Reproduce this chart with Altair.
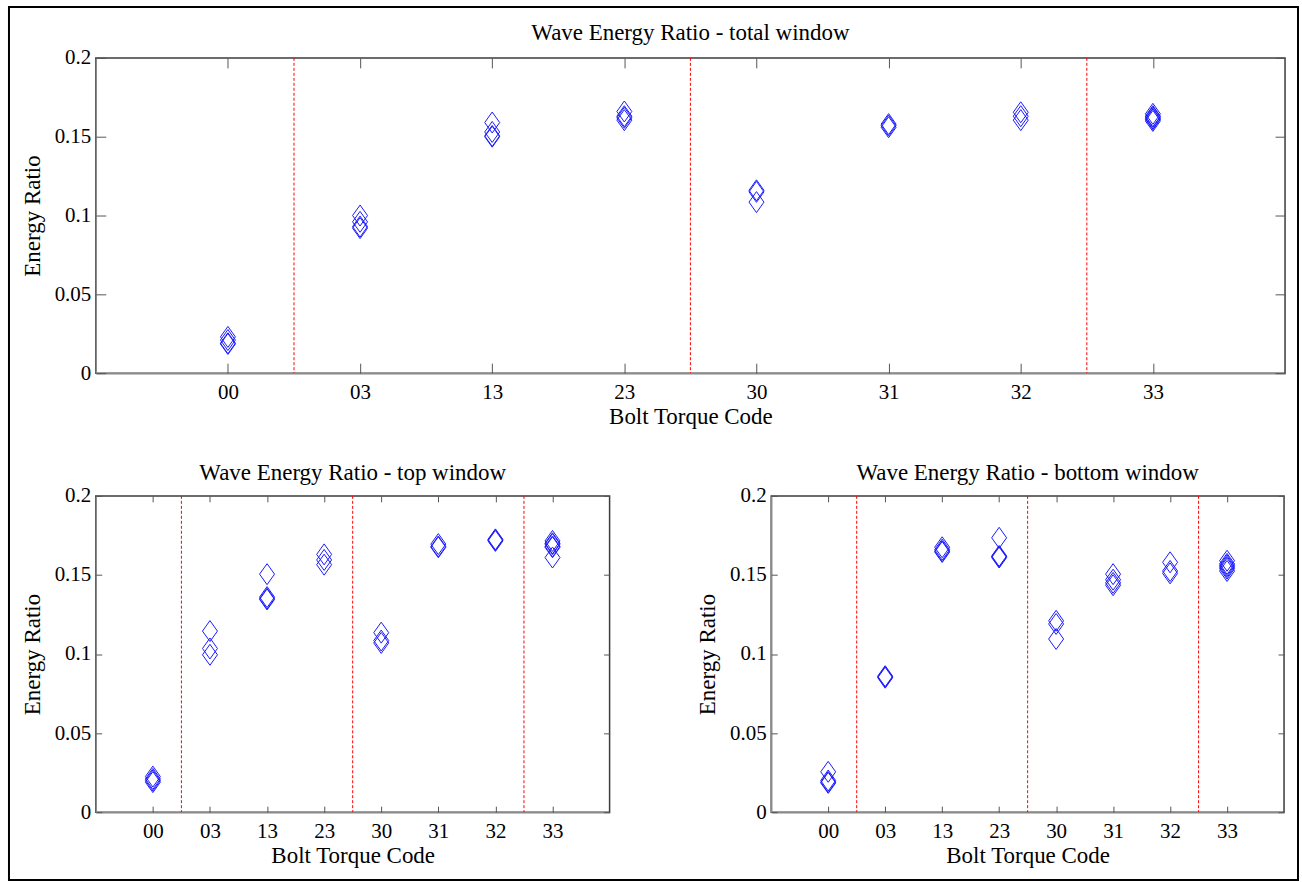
import altair as alt
import pandas as pd

# ---- data ----
codes = ["00", "03", "13", "23", "30", "31", "32", "33"]
boundaries = [1.5, 4.5, 7.5]  # dashed separators between code groups
y_ticks = [0, 0.05, 0.1, 0.15, 0.2]

total_code = ["00", "00", "00", "00",
              "03", "03", "03", "03",
              "13", "13", "13", "13",
              "23", "23", "23", "23",
              "30", "30", "30",
              "31", "31", "31",
              "32", "32", "32",
              "33", "33", "33", "33", "33", "33"]
total_ratio = [0.023, 0.021, 0.019, 0.0185,
               0.100, 0.096, 0.093, 0.092,
               0.159, 0.153, 0.150, 0.1505,
               0.166, 0.163, 0.1605, 0.162,
               0.116, 0.115, 0.1085,
               0.158, 0.156, 0.157,
               0.1655, 0.163, 0.1605,
               0.1645, 0.163, 0.1615, 0.160, 0.1625, 0.161]

top_code = ["00", "00", "00", "00",
            "03", "03", "03",
            "13", "13", "13", "13",
            "23", "23", "23",
            "30", "30", "30",
            "31", "31", "31",
            "32", "32", "32",
            "33", "33", "33", "33", "33", "33"]
top_ratio = [0.0225, 0.021, 0.020, 0.019,
             0.1145, 0.1035, 0.0995,
             0.1505, 0.136, 0.1345, 0.135,
             0.163, 0.1595, 0.1565,
             0.1135, 0.1085, 0.107,
             0.1695, 0.1675, 0.168,
             0.1725, 0.1715, 0.172,
             0.1715, 0.170, 0.168, 0.1695, 0.1675, 0.161]

bottom_code = ["00", "00", "00", "00",
               "03", "03", "03",
               "13", "13", "13", "13",
               "23", "23", "23", "23",
               "30", "30", "30",
               "31", "31", "31", "31",
               "32", "32", "32",
               "33", "33", "33", "33", "33", "33"]
bottom_ratio = [0.0255, 0.020, 0.0185, 0.019,
                0.0860, 0.0855, 0.085,
                0.1675, 0.166, 0.1645, 0.165,
                0.1735, 0.162, 0.161, 0.1615,
                0.121, 0.119, 0.1095,
                0.1505, 0.147, 0.1435, 0.145,
                0.158, 0.1525, 0.151,
                0.159, 0.157, 0.155, 0.1525, 0.156, 0.154]

titles = ["Wave Energy Ratio - total window",
          "Wave Energy Ratio - top window",
          "Wave Energy Ratio - bottom window"]

# ---- styling ----
FONT = "Liberation Serif"
FS = 21
FS_TITLE = 23
DIAMOND = "M0,-1.4L1,0L0,1.4L-1,0Z"
label_expr = "[" + ",".join("'%s'" % c for c in codes) + "][datum.value - 1]"
idx_values = list(range(1, len(codes) + 1))


def make_df(code_list, ratio_list):
    return pd.DataFrame({
        "idx": [codes.index(c) + 1 for c in code_list],
        "ratio": ratio_list,
    })


def panel(code_list, ratio_list, title, w, h, tick_len, title_gap, frame=False):
    df = make_df(code_list, ratio_list)
    xs = alt.Scale(domain=[0, len(codes) + 1], nice=False, zero=False)
    ys = alt.Scale(domain=[0, 0.2], nice=False)

    base = alt.Chart(df)

    pts = base.mark_point(shape=DIAMOND, size=225, filled=False,
                          color="#1a1aff", strokeWidth=1, opacity=1).encode(
        x=alt.X("idx:Q", scale=xs,
                axis=alt.Axis(orient="bottom", values=idx_values, labelExpr=label_expr,
                              ticks=False, domain=True, domainColor="#8a8a8a",
                              domainWidth=1.5, grid=False, title="Bolt Torque Code",
                              labelPadding=8, titlePadding=3)),
        y=alt.Y("ratio:Q", scale=ys,
                axis=alt.Axis(orient="left", values=y_ticks, format=".2~f",
                              ticks=False, domain=True, domainColor="#8a8a8a",
                              domainWidth=1.5, grid=False, title="Energy Ratio",
                              labelPadding=5, titlePadding=10)),
    )

    ticks_bl = base.mark_point(opacity=0).encode(
        x=alt.X("idx:Q", scale=xs,
                axis=alt.Axis(orient="bottom", values=idx_values, labels=False, title=None,
                              domain=False, grid=False, ticks=True, tickSize=tick_len,
                              offset=-tick_len, tickColor="#555555", tickWidth=1)),
        y=alt.Y("ratio:Q", scale=ys,
                axis=alt.Axis(orient="left", values=y_ticks, labels=False, title=None,
                              domain=False, grid=False, ticks=True, tickSize=tick_len,
                              offset=-tick_len, tickColor="#555555", tickWidth=1)),
    )

    ticks_tr = base.mark_point(opacity=0).encode(
        x=alt.X("idx:Q", scale=xs,
                axis=alt.Axis(orient="top", values=idx_values, labels=False, title=None,
                              domain=False, grid=False, ticks=True, tickSize=tick_len,
                              offset=-tick_len, tickColor="#555555", tickWidth=1)),
        y=alt.Y("ratio:Q", scale=ys,
                axis=alt.Axis(orient="right", values=y_ticks, labels=False, title=None,
                              domain=False, grid=False, ticks=True, tickSize=tick_len,
                              offset=-tick_len, tickColor="#555555", tickWidth=1)),
    )

    rules = alt.Chart(pd.DataFrame({"b": boundaries})).mark_rule(
        color="#ff0000", strokeDash=[3, 2], strokeWidth=1).encode(
        x=alt.X("b:Q", scale=xs, axis=None))

    ttl = alt.Chart(pd.DataFrame({"t": [title]})).mark_text(
        font=FONT, fontSize=FS_TITLE, color="black", align="center", baseline="middle").encode(
        x=alt.value(w / 2), y=alt.value(-title_gap), text="t:N")

    layers = [rules, pts, ticks_bl, ticks_tr, ttl]
    if frame:
        fr = alt.Chart(pd.DataFrame({"f": [0]})).mark_rect(
            fillOpacity=0, stroke="black", strokeWidth=2).encode(
            x=alt.value(-87), x2=alt.value(1205), y=alt.value(-51), y2=alt.value(824))
        layers.append(fr)

    return alt.layer(*layers).resolve_axis(x="independent", y="independent").properties(
        width=w, height=h)


top = panel(total_code, total_ratio, titles[0], 1192, 316, 10, 25, frame=True)
left = panel(top_code, top_ratio, titles[1], 515, 317, 6, 23)
right = panel(bottom_code, bottom_ratio, titles[2], 514, 317, 6, 23)

bottom_row = alt.hconcat(left, right, spacing=162, bounds="flush")
chart = alt.vconcat(top, bottom_row, spacing=123, bounds="flush").properties(
    padding={"left": 7, "top": 4, "right": 2, "bottom": 2},
    background="white",
).configure_view(
    stroke="#3c3c3c", strokeWidth=1.5
).configure_axis(
    labelFont=FONT, titleFont=FONT, labelFontSize=FS, titleFontSize=FS_TITLE,
    labelColor="black", titleColor="black", titleFontWeight="normal",
)

chart.save("out.html", embed_options={"renderer": "svg", "actions": False})
